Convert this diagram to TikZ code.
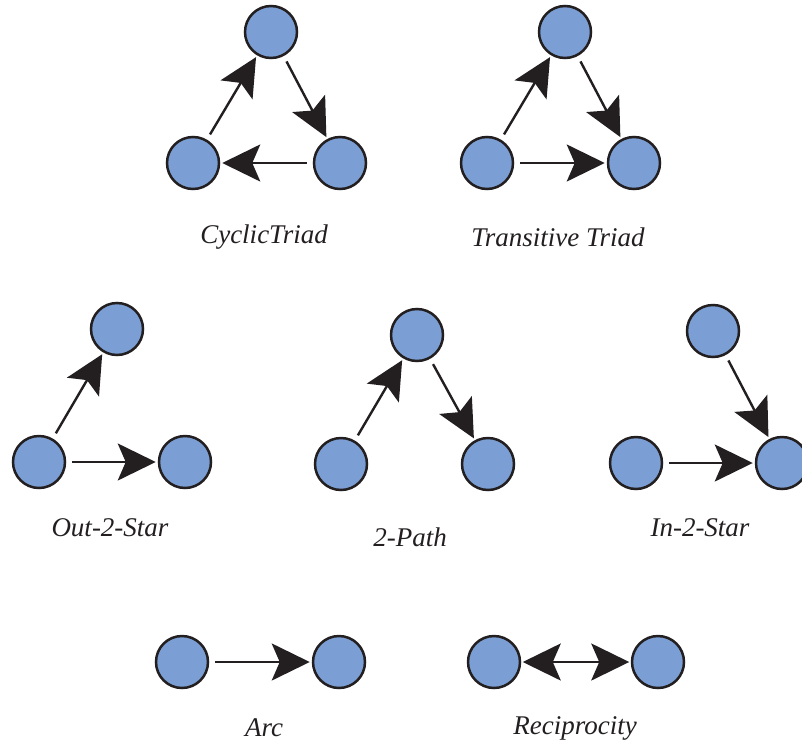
\documentclass[tikz,border=0pt]{standalone}
\usepackage{fontspec}
\setmainfont{Liberation Serif}[ItalicFont={Liberation Serif Italic}]
\usetikzlibrary{arrows.meta}
\definecolor{nodeblue}{HTML}{7B9FD4}
\definecolor{edgeblack}{HTML}{231F20}
\tikzset{
  vtx/.style={circle,draw=edgeblack,fill=nodeblue,line width=2.5pt,minimum size=52pt,inner sep=0pt},
  tipA/.tip={Stealth[length=38pt,width=37pt,inset=8pt]},
  arr/.style={line width=2.4pt,draw=edgeblack,-tipA,shorten <=6pt,shorten >=2pt},
  biarr/.style={line width=2.4pt,draw=edgeblack,tipA-tipA,shorten <=1.5pt,shorten >=1.5pt},
  lbl/.style={font=\fontsize{27}{30}\selectfont\itshape,text=edgeblack}
}
\begin{document}
\begin{tikzpicture}[x=1pt,y=-1pt]
\useasboundingbox (0,0) rectangle (802,744);
% Cyclic triad
\node[vtx] (ct) at (271,32) {};
\node[vtx] (cl) at (193,163) {};
\node[vtx] (cr) at (340,163) {};
\draw[arr] (ct) -- (cr);
\draw[arr] (cr) -- (cl);
\draw[arr] (cl) -- (ct);
\node[lbl] (lct) at (264,237) {CyclicTriad};
% Transitive triad
\node[vtx] (tt) at (565,32) {};
\node[vtx] (tl) at (487,163) {};
\node[vtx] (tr) at (634,163) {};
\draw[arr] (tl) -- (tt);
\draw[arr] (tt) -- (tr);
\draw[arr] (tl) -- (tr);
\node[lbl] (ltt) at (558,237) {Transitive Triad};
% Out-2-star
\node[vtx] (ot) at (117,329) {};
\node[vtx] (ol) at (39,462) {};
\node[vtx] (or) at (185,462) {};
\draw[arr] (ol) -- (ot);
\draw[arr] (ol) -- (or);
\node[lbl] (lo) at (110,528) {Out-2-Star};
% 2-path
\node[vtx] (pt) at (417,335) {};
\node[vtx] (pl) at (341,464) {};
\node[vtx] (pr) at (488,464) {};
\draw[arr] (pl) -- (pt);
\draw[arr] (pt) -- (pr);
\node[lbl] (lp) at (410,537) {2-Path};
% In-2-star
\node[vtx] (it) at (713,331) {};
\node[vtx] (il) at (636,463) {};
\node[vtx] (ir) at (782,463) {};
\draw[arr] (it) -- (ir);
\draw[arr] (il) -- (ir);
\node[lbl] (li) at (700,528) {In-2-Star};
% Arc
\node[vtx] (al) at (182,662) {};
\node[vtx] (ar) at (339,662) {};
\draw[arr] (al) -- (ar);
\node[lbl] (la) at (264,728) {Arc};
% Reciprocity
\node[vtx] (rl) at (494,662) {};
\node[vtx] (rr) at (658,662) {};
\draw[biarr] (rl) -- (rr);
\node[lbl] (lr) at (575,728) {Reciprocity};
\end{tikzpicture}
\end{document}
